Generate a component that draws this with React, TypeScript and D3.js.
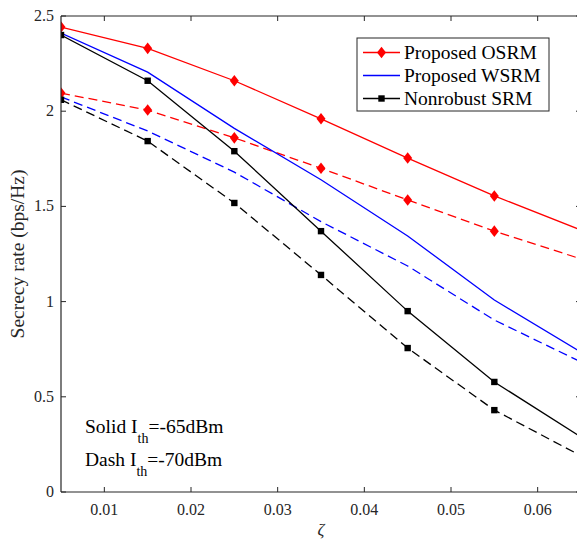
import React from "react";
import * as d3 from "d3";

const xs = [0.005, 0.015, 0.025, 0.035, 0.045, 0.055, 0.065];
const osrmSolid = [2.442, 2.33, 2.16, 1.96, 1.754, 1.555, 1.376];
const osrmDash = [2.095, 2.006, 1.86, 1.70, 1.534, 1.37, 1.224];
const wsrmSolid = [2.41, 2.205, 1.91, 1.64, 1.345, 1.008, 0.735];
const wsrmDash = [2.075, 1.896, 1.68, 1.42, 1.187, 0.903, 0.683];
const nonSolid = [2.40, 2.16, 1.79, 1.37, 0.95, 0.578, 0.289];
const nonDash = [2.06, 1.843, 1.518, 1.14, 0.756, 0.43, 0.19];
const xTicks = [0.01, 0.02, 0.03, 0.04, 0.05, 0.06];
const yTicks = [0, 0.5, 1, 1.5, 2, 2.5];
const legendLabels = ["Proposed OSRM", "Proposed WSRM", "Nonrobust SRM"];

const W = 577, H = 539;
const L = 61, R = 581, T = 16, B = 492;
const font = "'Liberation Serif', 'Times New Roman', serif";

export default function App() {
  const x = d3.scaleLinear().domain([0.005, 0.065]).range([L, R]);
  const y = d3.scaleLinear().domain([0, 2.5]).range([B, T]);
  const line = d3.line<number>().x((_, i) => x(xs[i])).y((d) => y(d));

  const series = [
    { data: osrmSolid, color: "#ff0000", dash: "", marker: "diamond" },
    { data: osrmDash, color: "#ff0000", dash: "9,5", marker: "diamond" },
    { data: wsrmSolid, color: "#0000ff", dash: "", marker: "" },
    { data: wsrmDash, color: "#0000ff", dash: "9,5", marker: "" },
    { data: nonSolid, color: "#000000", dash: "", marker: "square" },
    { data: nonDash, color: "#000000", dash: "9,5", marker: "square" },
  ];

  const marker = (type: string, cx: number, cy: number, color: string, key: any) => {
    if (type === "diamond") {
      const w = 4.5, h = 5.8;
      return (
        <path key={key} d={`M${cx},${cy - h}L${cx + w},${cy}L${cx},${cy + h}L${cx - w},${cy}Z`} fill={color} />
      );
    }
    if (type === "square") {
      const s = 3.2;
      return <rect key={key} x={cx - s} y={cy - s} width={2 * s} height={2 * s} fill={color} />;
    }
    return null;
  };

  const legX = 357, legY = 38, legW = 192, legH = 73;
  const legendItems = [
    { color: "#ff0000", marker: "diamond" },
    { color: "#0000ff", marker: "" },
    { color: "#000000", marker: "square" },
  ];

  return (
    <svg width={W} height={H} style={{ position: "absolute", left: 0, top: 0, background: "#fff" }}>
      <defs>
        <clipPath id="plotclip">
          <rect x={L} y={T} width={R - L} height={B - T} />
        </clipPath>
      </defs>
      <rect x={0} y={0} width={W} height={H} fill="#fff" />
      <g clipPath="url(#plotclip)">
        {series.map((s, i) => (
          <path key={i} d={line(s.data) || ""} fill="none" stroke={s.color} strokeWidth={1.3} strokeDasharray={s.dash || undefined} />
        ))}
        {series.map((s, i) =>
          s.data.slice(0, 6).map((v, j) => marker(s.marker, x(xs[j]), y(v), s.color, `${i}-${j}`))
        )}
      </g>
      {/* axes frame */}
      <line x1={L} y1={B} x2={R} y2={B} stroke="#262626" strokeWidth={1.2} />
      <line x1={L} y1={T} x2={R} y2={T} stroke="#262626" strokeWidth={1.2} />
      <line x1={L} y1={T} x2={L} y2={B} stroke="#262626" strokeWidth={1.2} />
      <line x1={R} y1={T} x2={R} y2={B} stroke="#262626" strokeWidth={1.2} />
      {xTicks.map((t) => (
        <g key={"x" + t}>
          <line x1={x(t)} y1={B} x2={x(t)} y2={B - 5} stroke="#262626" />
          <line x1={x(t)} y1={T} x2={x(t)} y2={T + 5} stroke="#262626" />
          <text x={x(t)} y={515} textAnchor="middle" fontFamily={font} fontSize={16} fill="#262626">
            {d3.format(".2f")(t)}
          </text>
        </g>
      ))}
      {yTicks.map((t) => (
        <g key={"y" + t}>
          <line x1={L} y1={y(t)} x2={L + 5} y2={y(t)} stroke="#262626" />
          <line x1={R} y1={y(t)} x2={R - 5} y2={y(t)} stroke="#262626" />
          <text x={54} y={y(t) + 5} textAnchor="end" fontFamily={font} fontSize={16} fill="#262626">
            {t === 0 ? "0" : d3.format("")(t)}
          </text>
        </g>
      ))}
      <text x={0} y={0} transform={`translate(24,${(T + B) / 2}) rotate(-90)`} textAnchor="middle" fontFamily={font} fontSize={19.5} fill="#262626">
        Secrecy rate (bps/Hz)
      </text>
      <text x={321} y={535} textAnchor="middle" fontFamily={font} fontStyle="italic" fontSize={17} fill="#262626">
        ζ
      </text>
      {/* annotations */}
      <text x={85} y={433} fontFamily={font} fontSize={19.5} fill="#000">
        Solid I<tspan dy={10} fontSize={14}>th</tspan><tspan dy={-10}>=-65dBm</tspan>
      </text>
      <text x={85} y={466} fontFamily={font} fontSize={19.5} fill="#000">
        Dash I<tspan dy={10} fontSize={14}>th</tspan><tspan dy={-10}>=-70dBm</tspan>
      </text>
      {/* legend */}
      <rect x={legX} y={legY} width={legW} height={legH} fill="#fff" stroke="#262626" strokeWidth={1} />
      {legendItems.map((it, i) => {
        const ly = 52.5 + i * 23;
        return (
          <g key={"l" + i}>
            <line x1={363} y1={ly} x2={400} y2={ly} stroke={it.color} strokeWidth={1.3} />
            {marker(it.marker, 381.5, ly, it.color, "lm" + i)}
            <text x={404} y={ly + 6} fontFamily={font} fontSize={19.5} fill="#000">
              {legendLabels[i]}
            </text>
          </g>
        );
      })}
    </svg>
  );
}
